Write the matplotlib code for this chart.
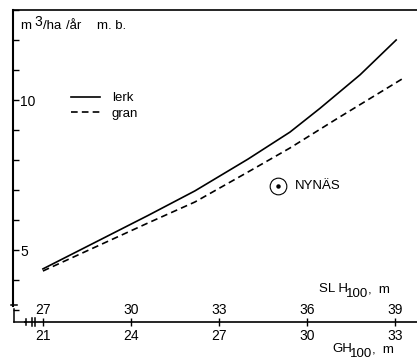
import matplotlib.pyplot as plt
from matplotlib.lines import Line2D

plt.rcParams['font.family'] = ['Liberation Sans', 'DejaVu Sans']

# GH100 (m) against yearly growth (m3/ha/år m.b.)
gh_lerk = [21.0, 24.58, 26.18, 27.99, 29.42, 30.44, 31.81, 33.04]
v_lerk = [4.37, 6.15, 6.97, 8.03, 8.93, 9.72, 10.84, 12.0]
gh_gran = [21.0, 24.58, 26.18, 27.99, 29.42, 31.06, 33.24]
v_gran = [4.3, 5.9, 6.6, 7.6, 8.4, 9.4, 10.7]

nynas_gh = 29.0
nynas_v = 7.13

gh_ticks = [21, 24, 27, 30, 33]
slh_ticks = [27, 30, 33, 36, 39]
y_ticks = [3, 4, 5, 6, 7, 8, 9, 10, 11, 12, 13]

W, H = 417, 360
fig = plt.figure(figsize=(W / 100, H / 100), dpi=100)
ax = fig.add_axes([13 / W, 38 / H, 404 / W, 312 / H])


def px(x, y):
    # pixel (from top-left) -> figure fraction
    return x / W, 1 - y / H


ax.plot(gh_lerk, v_lerk, color='black', lw=1.2, label='lerk')
ax.plot(gh_gran, v_gran, color='black', lw=1.2, ls=(0, (4, 2.5)), label='gran')

ax.plot([nynas_gh], [nynas_v], 'o', ms=12, mfc='white', mec='black', mew=0.8)
ax.plot([nynas_gh], [nynas_v], 'o', ms=2.2, color='black')
ax.text(nynas_gh + 0.6, nynas_v, 'NYNÄS', fontsize=9.5, va='center', ha='left')

ax.set_xlim(19.98, 33.75)
ax.set_ylim(2.6, 13)

ax.spines['right'].set_visible(False)
ax.spines['left'].set_bounds(3.13, 13)
ax.spines['left'].set_linewidth(1.5)
ax.spines['top'].set_linewidth(1.2)
ax.spines['bottom'].set_linewidth(1.2)
ax.spines['bottom'].set_bounds(20.38, 33.75)

ax.set_yticks(y_ticks)
ax.set_yticklabels(['5' if t == 5 else '10' if t == 10 else '' for t in y_ticks])
ax.tick_params(axis='y', direction='in', length=4, width=1, pad=-5, labelsize=10)
for lab in ax.get_yticklabels():
    lab.set_horizontalalignment('left')

ax.set_xticks(gh_ticks)
ax.set_xticklabels([str(t) for t in gh_ticks])
ax.tick_params(axis='x', direction='inout', length=6, width=1, pad=2, labelsize=10)

for g, s in zip(gh_ticks, slh_ticks):
    ax.text(g, 3.0, str(s), fontsize=10, ha='center', va='center')

# legend
ax.legend(loc='upper left', bbox_to_anchor=px(71, 92), bbox_transform=fig.transFigure,
          frameon=False, fontsize=9.5, handlelength=2.2, handletextpad=0.9,
          labelspacing=0.25, borderpad=0, borderaxespad=0)

# axis titles
fig.text(*px(20, 29), 'm', fontsize=9.5, va='baseline')
fig.text(*px(34, 26), '3', fontsize=10, va='baseline')
fig.text(*px(43, 29), '/ha', fontsize=9.5, va='baseline')
fig.text(*px(66, 29), '/år', fontsize=9.5, va='baseline')
fig.text(*px(97, 29), 'm. b.', fontsize=9.5, va='baseline')

fig.text(*px(319, 292), 'SL H', fontsize=9.5, va='baseline')
fig.text(*px(346, 297), '100', fontsize=9.5, va='baseline')
fig.text(*px(368, 292), ',  m', fontsize=9.5, va='baseline')

fig.text(*px(332, 352), 'GH', fontsize=9.5, va='baseline')
fig.text(*px(350, 357), '100', fontsize=9.5, va='baseline')
fig.text(*px(372, 352), ',  m', fontsize=9.5, va='baseline')

# axis break decorations
segs = [
    ((11, 17), (305, 305)),
    ((14, 14), (309, 322)),
    ((14, 26), (322, 322)),
    ((26, 26), (319, 325)),
    ((32, 32), (318, 326)),
    ((35, 35), (318, 326)),
]
for xs, ys in segs:
    p0 = px(xs[0], ys[0])
    p1 = px(xs[1], ys[1])
    fig.add_artist(Line2D([p0[0], p1[0]], [p0[1], p1[1]], color='black', lw=1.1))

fig.savefig('out.png', dpi=100)
